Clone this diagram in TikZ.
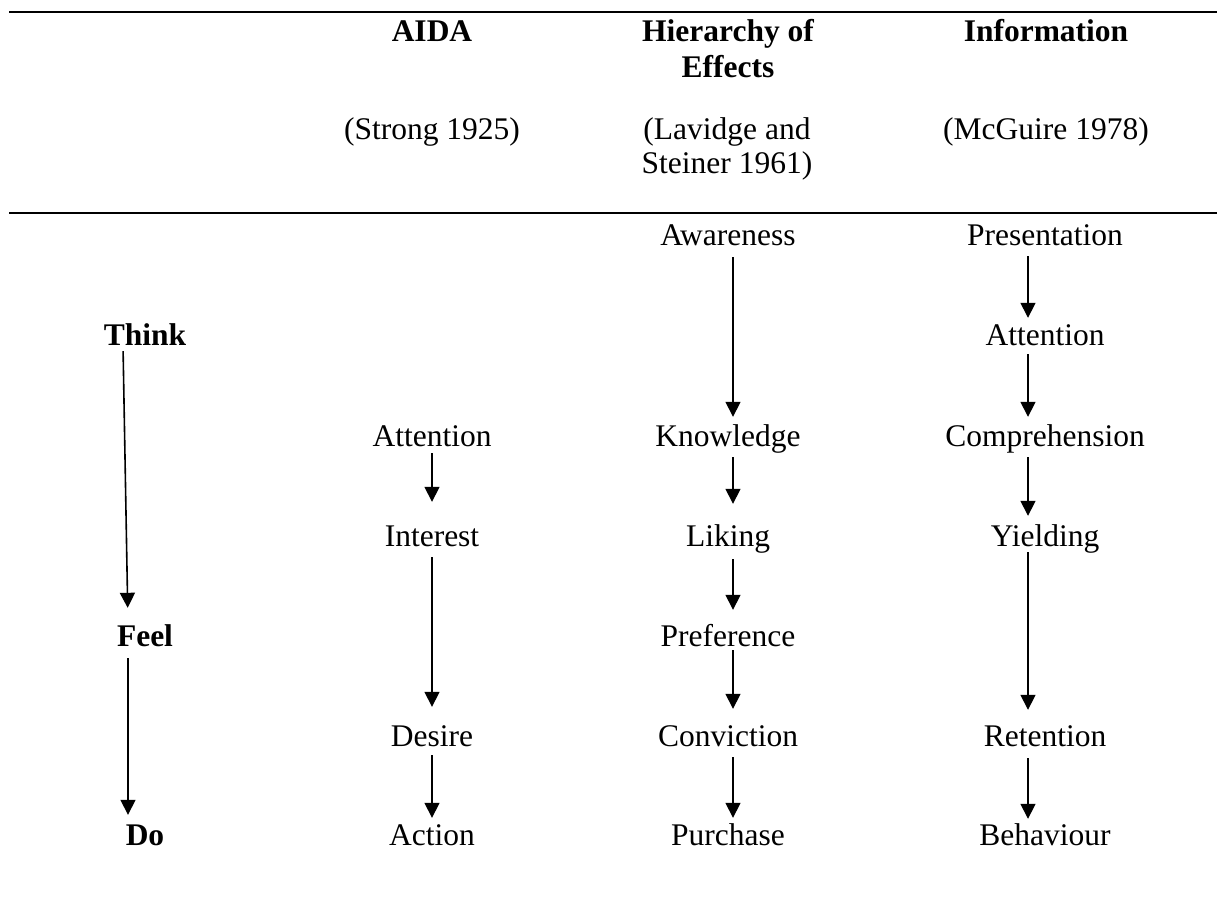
\documentclass[tikz,border=0pt]{standalone}
\usepackage{fontspec}
\setmainfont{Liberation Serif}
\usetikzlibrary{arrows.meta}

\begin{document}
\begin{tikzpicture}[x=1pt, y=-1pt,
  txt/.style={font=\fontsize{31.5}{35}\selectfont, inner sep=0pt, anchor=base,
              text height=21pt, text depth=0pt},
  hdr/.style={txt, font=\fontsize{31.5}{35}\selectfont\bfseries},
  flow/.style={line width=1.6pt, -{Triangle[width=15pt,length=15pt]}},
  rule/.style={line width=2.2pt}]
\useasboundingbox (0,0) rectangle (1217,909);

% table rules
\draw[rule] (9,12) -- (1217,12);
\draw[rule] (9,213) -- (1217,213);

% column headings
\node[hdr] (hA)  at (432,42)  {AIDA};
\node[hdr] (hH1) at (728,42)  {Hierarchy of};
\node[hdr] (hH2) at (728,78)  {Effects};
\node[hdr] (hI)  at (1046,42) {Information};
\node[txt] (cA)  at (432,140) {(Strong 1925)};
\node[txt] (cH1) at (727,140) {(Lavidge and};
\node[txt] (cH2) at (727,174) {Steiner 1961)};
\node[txt] (cI)  at (1046,140) {(McGuire 1978)};

% stages
\node[hdr] (think) at (145,345) {Think};
\node[hdr] (feel)  at (145,646) {Feel};
\node[hdr] (do)    at (145,845) {Do};

% AIDA
\node[txt] (aAtt) at (432,446) {Attention};
\node[txt] (aInt) at (432,546) {Interest};
\node[txt] (aDes) at (432,746) {Desire};
\node[txt] (aAct) at (432,845) {Action};

% Hierarchy of Effects
\node[txt] (hAwa) at (728,246) {Awareness};
\node[txt] (hKno) at (728,446) {Knowledge};
\node[txt] (hLik) at (728,546) {Liking};
\node[txt] (hPre) at (728,646) {Preference};
\node[txt] (hCon) at (728,746) {Conviction};
\node[txt] (hPur) at (728,845) {Purchase};

% Information processing
\node[txt] (iPre) at (1045,246) {Presentation};
\node[txt] (iAtt) at (1045,345) {Attention};
\node[txt] (iCom) at (1045,446) {Comprehension};
\node[txt] (iYie) at (1045,546) {Yielding};
\node[txt] (iRet) at (1045,746) {Retention};
\node[txt] (iBeh) at (1045,845) {Behaviour};

% stage arrows
\draw[flow, shorten <=6pt, shorten >=17pt] ([xshift=-22pt]think.south) -- ([xshift=-17pt]feel.north);
\draw[flow, shorten <=12pt, shorten >=9pt] ([xshift=-17pt]feel.south) -- ([xshift=-17pt]do.north);

% AIDA arrows
\draw[flow, shorten <=7pt, shorten >=23pt] (aAtt.south) -- (aInt.north);
\draw[flow, shorten <=11pt, shorten >=18pt] (aInt.south) -- (aDes.north);
\draw[flow, shorten <=9pt, shorten >=6pt] (aDes.south) -- (aAct.north);

% Hierarchy of Effects arrows
\draw[flow, shorten <=11pt, shorten >=8pt] ([xshift=5pt]hAwa.south) -- ([xshift=5pt]hKno.north);
\draw[flow, shorten <=11pt, shorten >=21pt] ([xshift=5pt]hKno.south) -- ([xshift=5pt]hLik.north);
\draw[flow, shorten <=13pt, shorten >=15pt] ([xshift=5pt]hLik.south) -- ([xshift=5pt]hPre.north);
\draw[flow, shorten <=4pt, shorten >=16pt] ([xshift=5pt]hPre.south) -- ([xshift=5pt]hCon.north);
\draw[flow, shorten <=11pt, shorten >=6pt] ([xshift=5pt]hCon.south) -- ([xshift=5pt]hPur.north);

% Information processing arrows
\draw[flow, shorten <=10pt, shorten >=6pt] ([xshift=-17pt]iPre.south) -- ([xshift=-17pt]iAtt.north);
\draw[flow, shorten <=9pt, shorten >=8pt] ([xshift=-17pt]iAtt.south) -- ([xshift=-17pt]iCom.north);
\draw[flow, shorten <=11pt, shorten >=9pt] ([xshift=-17pt]iCom.south) -- ([xshift=-17pt]iYie.north);
\draw[flow, shorten <=6pt, shorten >=15pt] ([xshift=-17pt]iYie.south) -- ([xshift=-17pt]iRet.north);
\draw[flow, shorten <=12pt, shorten >=5pt] ([xshift=-17pt]iRet.south) -- ([xshift=-17pt]iBeh.north);
\end{tikzpicture}
\end{document}
